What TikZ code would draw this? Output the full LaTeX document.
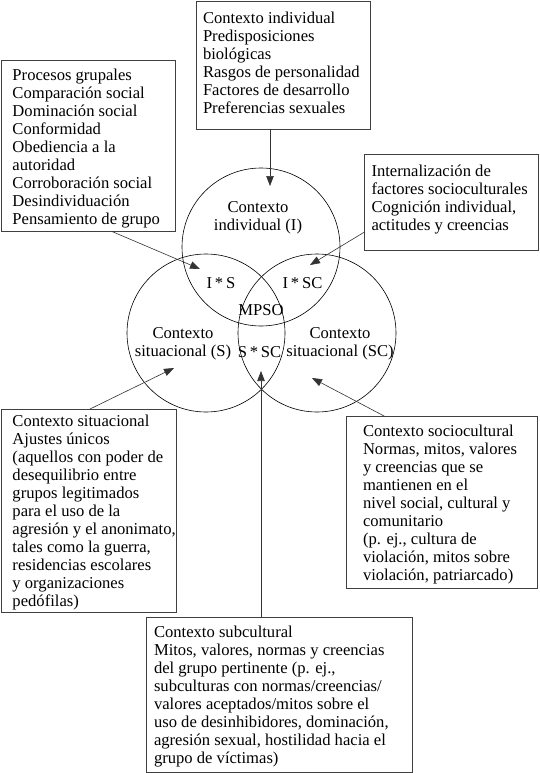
\documentclass[tikz,border=0pt]{standalone}
\usepackage{fontspec}
\setmainfont{Liberation Serif}
\usetikzlibrary{arrows.meta}
\begin{document}
\begin{tikzpicture}[x=1pt,y=-1pt,
  every node/.style={inner sep=0pt, outer sep=0pt, font=\fontsize{16.6}{18}\selectfont},
  frame/.style={draw=black!75, line width=0.8pt, anchor=north west},
  txt/.style={anchor=north west, align=left},
  ring/.style={circle, draw=black, line width=0.6pt, minimum size=158pt},
  lbl/.style={anchor=north, align=center},
  tag/.style={anchor=base},
  conn/.style={draw=black!80, line width=0.6pt, -{Triangle[length=10pt,width=7.5pt]}}
]
\useasboundingbox (0,0) rectangle (540,773);
\fill[white] (0,0) rectangle (540,773);

% circles
\node[ring] (cI) at (261,247) {};
\node[ring] (cS) at (206,333) {};
\node[ring] (cSC) at (317,333) {};

% circle labels
\node[lbl] (lI) at (258,199.9) {\strut Contexto\\ individual (I)};
\node[lbl] (lS) at (183,325.4) {\strut Contexto\\ situacional (S)};
\node[lbl] (lSC) at (340,325.4) {\strut Contexto\\ situacional (SC)};
\node[tag] (lIS) at (221,288) {I\,*\,S};
\node[tag] (lISC) at (302.5,288) {I\,*\,SC};
\node[tag] (lM) at (261,315) {MPSO};
\node[tag] (lSSC) at (259.5,357.5) {S\,*\,SC};

% boxes
\node[frame, minimum width=174pt, minimum height=128pt] (tbox) at (196,1) {};
\node[txt] (tboxt) at (203,10.7) {\strut Contexto individual\\ Predisposiciones\\ biológicas\\ Rasgos de personalidad\\ Factores de desarrollo\\ Preferencias sexuales};

\node[frame, minimum width=173.5pt, minimum height=171.5pt] (lbox) at (1.5,60) {};
\node[txt] (lboxt) at (12.5,67.4) {\strut Procesos grupales\\ Comparación social\\ Dominación social\\ Conformidad\\ Obediencia a la\\ autoridad\\ Corroboración social\\ Desindividuación\\ Pensamiento de grupo};

\node[frame, minimum width=173.5pt, minimum height=96pt] (rbox) at (364.5,154) {};
\node[txt] (rboxt) at (371.5,163.9) {\strut Internalización de\\ factores socioculturales\\ Cognición individual,\\ actitudes y creencias};

\node[frame, minimum width=175pt, minimum height=203pt] (sbox) at (1,409) {};
\node[txt] (sboxt) at (12.5,413.4) {\strut Contexto situacional\\ Ajustes únicos\\ (aquellos con poder de\\ desequilibrio entre\\ grupos legitimados\\ para el uso de la\\ agresión y el anonimato,\\ tales como la guerra,\\ residencias escolares\\ y organizaciones\\ pedófilas)};

\node[frame, minimum width=190.5pt, minimum height=171.5pt] (scbox) at (346.5,416.5) {};
\node[txt] (scboxt) at (363,423.4) {\strut Contexto sociocultural\\ Normas, mitos, valores\\ y creencias que se\\ mantienen en el\\ nivel social, cultural y\\ comunitario\\ (p. ej., cultura de\\ violación, mitos sobre\\ violación, patriarcado)};

\node[frame, minimum width=266pt, minimum height=155pt] (subbox) at (146,617) {};
\node[txt] (subboxt) at (154,624.4) {\strut Contexto subcultural\\ Mitos, valores, normas y creencias\\ del grupo pertinente (p. ej.,\\ subculturas con normas/creencias/\\ valores aceptados/mitos sobre el\\ uso de desinhibidores, dominación,\\ agresión sexual, hostilidad hacia el\\ grupo de víctimas)};

% arrow tips
\coordinate (tI) at (270,186);
\coordinate (tIS) at (200,269);
\coordinate (tISC) at (310,265);
\coordinate (tS) at (174,368);
\coordinate (tSC) at (312,378);
\coordinate (tSSC) at (261,371);

% connectors
\draw[conn] (tbox.south -| tI) -- (tI);
\draw[conn] ([xshift=110.5pt]lbox.south west) -- (tIS);
\draw[conn] ([yshift=-30pt]rbox.west) -- (tISC);
\draw[conn] ([xshift=89pt]sbox.north west) -- (tS);
\draw[conn] ([xshift=38.5pt]scbox.north west) -- (tSC);
\draw[conn] (subbox.north -| tSSC) -- (tSSC);
\end{tikzpicture}
\end{document}
